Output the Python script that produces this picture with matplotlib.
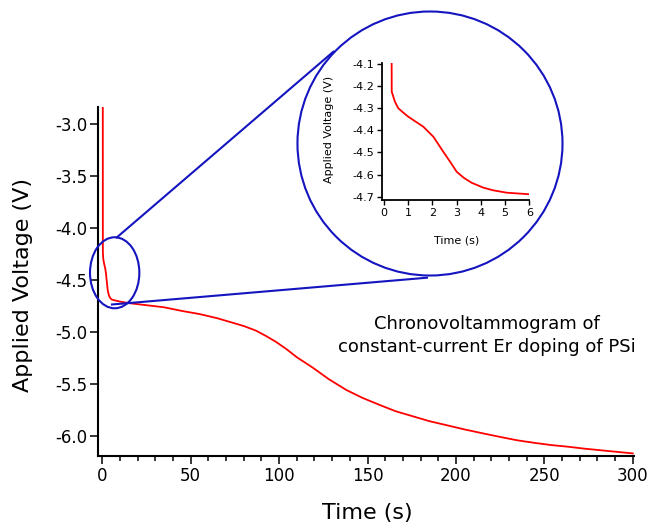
import matplotlib
matplotlib.use('Agg')
import matplotlib.pyplot as plt
from matplotlib.patches import Ellipse
from matplotlib.lines import Line2D
from matplotlib.ticker import MultipleLocator

plt.rcParams['font.family'] = ['DejaVu Sans']
plt.rcParams['axes.unicode_minus'] = False

# chronovoltammogram
time_s = [0.28, 0.32, 0.45, 0.59, 0.8, 1.0, 1.3, 1.62, 2.04, 2.45, 2.75, 3.0, 3.3,
          3.62, 4.1, 4.5, 5.07, 6.0, 10, 15, 25, 35, 45, 55, 65, 72, 80, 87, 93,
          98, 104, 110, 119, 128, 138, 147, 157, 166, 176, 185, 195, 205, 216,
          226, 235, 245, 254, 263, 273, 282, 291, 300]
voltage = [-2.70, -4.225, -4.27, -4.30, -4.32, -4.338, -4.36, -4.383, -4.429,
           -4.497, -4.545, -4.587, -4.615, -4.637, -4.659, -4.671, -4.682, -4.689,
           -4.705, -4.72, -4.74, -4.76, -4.795, -4.825, -4.865, -4.90, -4.94,
           -4.985, -5.04, -5.09, -5.16, -5.24, -5.34, -5.45, -5.555, -5.63, -5.70,
           -5.76, -5.81, -5.855, -5.895, -5.935, -5.975, -6.01, -6.04, -6.065,
           -6.085, -6.10, -6.12, -6.135, -6.15, -6.165]

note = 'Chronovoltammogram of\nconstant-current Er doping of PSi'
red = '#ff0000'
blue = '#1414c0'

fig = plt.figure(figsize=(6.51, 5.23), dpi=100)
ax = fig.add_axes([0.1510, 0.1287, 0.8223, 0.6667])
ax.plot(time_s, voltage, c=red, lw=1.3, zorder=3)
ax.set_xlim(-2.26, 300.5)
ax.set_ylim(-6.187, -2.834)
ax.xaxis.set_major_locator(MultipleLocator(50))
ax.xaxis.set_minor_locator(MultipleLocator(10))
ax.yaxis.set_major_locator(MultipleLocator(0.5))
ax.yaxis.set_major_formatter('{x:.1f}')
for s in ['top', 'right']:
    ax.spines[s].set_visible(False)
for s in ['left', 'bottom']:
    ax.spines[s].set_linewidth(1.5)
ax.tick_params(which='major', length=5.8, width=1.1, labelsize=12, pad=2)
ax.tick_params(which='minor', length=3.5, width=1.1)
ax.set_xlabel('Time (s)', fontsize=16)
ax.set_ylabel('Applied Voltage (V)', fontsize=16)
ax.xaxis.set_label_coords(0.503, -0.136)
ax.yaxis.set_label_coords(-0.122, 0.49)
ax.text(0.725, 0.345, note, transform=ax.transAxes, fontsize=13,
        ha='center', va='center', multialignment='center', linespacing=1.35)

# zoom marker on the main plot
ax.add_patch(Ellipse((7.0, -4.428), 27.9, 0.683, fill=False, ec=blue,
                     lw=1.5, zorder=4, clip_on=False))

# inset
ins = fig.add_axes([0.5863, 0.6176, 0.2267, 0.2625], facecolor='none')
ins.plot(time_s, voltage, c=red, lw=1.3)
ins.set_xlim(-0.095, 6.0)
ins.set_ylim(-4.715, -4.094)
ins.xaxis.set_major_locator(MultipleLocator(1))
ins.yaxis.set_major_locator(MultipleLocator(0.1))
ins.yaxis.set_major_formatter('{x:.1f}')
for s in ['top', 'right']:
    ins.spines[s].set_visible(False)
for s in ['left', 'bottom']:
    ins.spines[s].set_linewidth(1.3)
ins.tick_params(length=3.5, width=1.0, labelsize=8, pad=2)
ins.set_xlabel('Time (s)', fontsize=8)
ins.set_ylabel('Applied Voltage (V)', fontsize=8)
ins.xaxis.set_label_coords(0.508, -0.255)
ins.yaxis.set_label_coords(-0.323, 0.516)

# big circle round the inset and the two guide lines
fig.add_artist(Ellipse((0.6605, 0.7256), 0.4071, 0.5048, transform=fig.transFigure,
                       fill=False, ec=blue, lw=1.5))
fig.add_artist(Line2D([0.1793, 0.5120], [0.5459, 0.9011], transform=fig.transFigure,
                      c=blue, lw=1.5))
fig.add_artist(Line2D([0.1720, 0.6559], [0.4178, 0.4690], transform=fig.transFigure,
                      c=blue, lw=1.5))

plt.savefig('out.png', dpi=100)
